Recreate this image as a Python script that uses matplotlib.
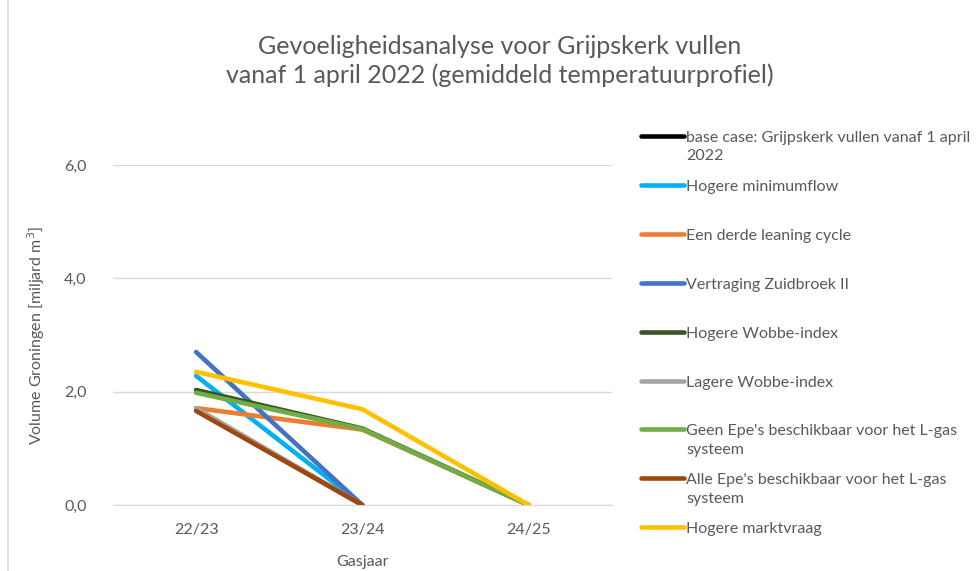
import matplotlib.pyplot as plt
from matplotlib.lines import Line2D
from matplotlib.patches import Rectangle
from matplotlib.ticker import FuncFormatter

plt.rcParams['font.family'] = ['Lato', 'DejaVu Sans']

jaren = ["22/23", "23/24", "24/25"]

base_case = [1.68, 0.0]
hogere_minimumflow = [2.28, 0.0]
derde_leaning = [1.71, 1.33, 0.0]
vertraging_zuidbroek = [2.70, 0.0]
hogere_wobbe = [2.03, 1.35, 0.0]
lagere_wobbe = [1.71, 0.0]
geen_epe = [1.98, 1.34, 0.0]
alle_epe = [1.66, 0.0]
hogere_marktvraag = [2.35, 1.69, 0.0]

series = [
    ("base case: Grijpskerk vullen vanaf 1 april\n2022", base_case, "#000000"),
    ("Hogere minimumflow", hogere_minimumflow, "#00B0F0"),
    ("Een derde leaning cycle", derde_leaning, "#ED7D31"),
    ("Vertraging Zuidbroek II", vertraging_zuidbroek, "#4472C4"),
    ("Hogere Wobbe-index", hogere_wobbe, "#375623"),
    ("Lagere Wobbe-index", lagere_wobbe, "#A5A5A5"),
    ("Geen Epe's beschikbaar voor het L-gas\nsysteem", geen_epe, "#70AD47"),
    ("Alle Epe's beschikbaar voor het L-gas\nsysteem", alle_epe, "#9E480E"),
    ("Hogere marktvraag", hogere_marktvraag, "#FFC000"),
]

txt = "#595959"
fig = plt.figure(figsize=(9.78, 5.71), dpi=100)
fig.add_artist(Rectangle((0.008, -0.01), 1.1, 1.1, transform=fig.transFigure,
                         fill=False, edgecolor="#D9D9D9", lw=1.2))
ax = fig.add_axes([0.1155, 0.1156, 0.510, 0.5954])

lines = []
for label, vals, col in series:
    l, = ax.plot(range(len(vals)), vals, color=col, lw=3.3, solid_capstyle="round")
    lines.append(l)

ax.set_xlim(-0.5, 2.5)
ax.set_ylim(0, 6)
ax.set_xticks(range(len(jaren)))
ax.set_xticklabels(jaren)
ax.set_yticks([0, 2, 4, 6])
ax.yaxis.set_major_formatter(FuncFormatter(lambda v, p: ("%.1f" % v).replace(".", ",")))
ax.tick_params(length=0, labelsize=11.5, labelcolor=txt)
ax.tick_params(axis="y", pad=19)
ax.tick_params(axis="x", pad=13)
ax.grid(axis="y", color="#D9D9D9", lw=1)
ax.set_axisbelow(True)
for s in ["top", "right", "left"]:
    ax.spines[s].set_visible(False)
ax.spines["bottom"].set_color("#D9D9D9")
ax.set_xlabel("Gasjaar", fontsize=11.5, color=txt, labelpad=13)
ax.set_ylabel("Volume Groningen [miljard m$^3$]", fontsize=11.5, color=txt, labelpad=12)

fig.text(0.511, 0.893, "Gevoeligheidsanalyse voor Grijpskerk vullen\nvanaf 1 april 2022 (gemiddeld temperatuurprofiel)",
         ha="center", va="center", fontsize=18, color=txt, linespacing=1.28)

# legend, Excel style: evenly spaced slots
y0 = 136
for i, (label, vals, col) in enumerate(series):
    yp = 1 - (y0 + i * 48.9) / 571
    fig.add_artist(Line2D([641 / 978, 684 / 978], [yp, yp], transform=fig.transFigure,
                          color=lines[i].get_color(), lw=3.3, solid_capstyle="round"))
    fig.text(686 / 978, yp + 5 / 571, label, ha="left", va="top", fontsize=11.5,
             color=txt, linespacing=1.4)

fig.savefig("out.png", dpi=100)
